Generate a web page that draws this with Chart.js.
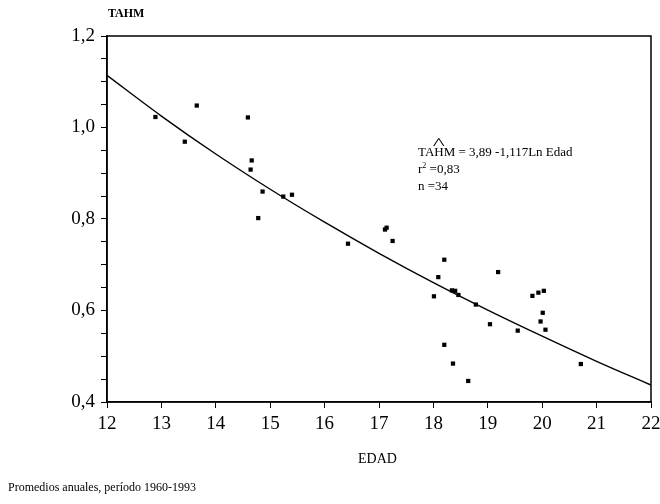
<!DOCTYPE html>
<html>
<head>
<meta charset="utf-8">
<script src="https://cdn.jsdelivr.net/npm/chart.js@4"></script>
<style>
  body { margin: 0; background: #fff; }
  #wrap { position: relative; width: 660px; height: 504px; font-family: "Liberation Serif", serif; color: #000; }
  #chart { position: absolute; left: 0; top: 0; }
  .lbl { position: absolute; white-space: nowrap; }
  .hat { position: relative; display: inline-block; }
  .hat::before { content: "^"; position: absolute; left: 0; right: 0; top: -9px; text-align: center; font-size: 16px; transform: scaleX(1.6); }
</style>
</head>
<body>
<div id="wrap">
  <canvas id="chart" width="660" height="504"></canvas>
  <div class="lbl" style="left:108px;top:6px;font-size:12px;font-weight:bold;">TAHM</div>
  <div class="lbl" style="left:418px;top:144px;font-size:13px;">TA<span class="hat">H</span>M = 3,89 -1,117Ln Edad</div>
  <div class="lbl" style="left:418px;top:161px;font-size:13px;">r<sup style="font-size:8px">2</sup> =0,83</div>
  <div class="lbl" style="left:418px;top:178px;font-size:13px;">n =34</div>
  <div class="lbl" style="left:358px;top:451px;font-size:14px;">EDAD</div>
  <div class="lbl" style="left:8px;top:480px;font-size:12px;">Promedios anuales, período 1960-1993</div>
</div>
<script>
// observed points (edad, tahm)
const edad = [12.89, 13.43, 13.65, 14.59, 14.64, 14.66, 14.78, 14.86, 15.24, 15.40,
  16.43, 17.11, 17.14, 17.25, 18.01, 18.09, 18.20, 18.34, 18.40, 18.46,
  18.78, 19.19, 19.04, 19.55, 19.82, 19.93, 20.03, 20.01, 19.97, 20.06,
  18.20, 18.36, 18.64, 20.71];
const tahm = [1.023, 0.969, 1.048, 1.022, 0.908, 0.928, 0.802, 0.860, 0.849, 0.853,
  0.746, 0.777, 0.781, 0.752, 0.631, 0.673, 0.711, 0.644, 0.643, 0.634,
  0.613, 0.684, 0.570, 0.556, 0.632, 0.639, 0.643, 0.595, 0.576, 0.558,
  0.525, 0.484, 0.446, 0.483];

// fitted curve
const curveX = [12, 13, 14, 15, 16, 17, 18, 19, 20, 21, 22];
const curveY = [1.114, 1.025, 0.942, 0.865, 0.793, 0.725, 0.661, 0.601, 0.544, 0.489, 0.437];

const xTicks = [12, 22, 1];
const yTicks = [0.4, 1.2, 0.05];

const frame = {
  id: "frame",
  afterDraw(chart) {
    const a = chart.chartArea, c = chart.ctx;
    c.save();
    c.strokeStyle = "#000";
    c.lineWidth = 1.5;
    c.strokeRect(a.left, a.top, a.right - a.left, a.bottom - a.top);
    c.restore();
  }
};

const tickFont = { family: "Liberation Serif", size: 19 };

new Chart(document.getElementById("chart"), {
  type: "scatter",
  data: {
    datasets: [
      {
        data: edad.map((x, i) => ({ x, y: tahm[i] })),
        pointStyle: "rect",
        pointRadius: 3,
        backgroundColor: "#000",
        borderColor: "#000",
        borderWidth: 0
      },
      {
        data: curveX.map((x, i) => ({ x, y: curveY[i] })),
        showLine: true,
        pointRadius: 0,
        borderColor: "#000",
        borderWidth: 1.4,
        cubicInterpolationMode: "monotone"
      }
    ]
  },
  options: {
    responsive: false,
    animation: false,
    layout: { padding: { left: 0, top: 36, right: 0, bottom: 0 } },
    plugins: { legend: { display: false }, tooltip: { enabled: false } },
    scales: {
      x: {
        type: "linear", min: xTicks[0], max: xTicks[1],
        ticks: { stepSize: xTicks[2], color: "#000", font: tickFont, padding: 5, maxRotation: 0 },
        grid: { drawOnChartArea: false, tickLength: 6, color: "#000", lineWidth: 1 },
        border: { color: "#000", width: 1.5 },
        afterFit: (s) => { s.height = 102; s.paddingRight = 9; s.paddingLeft = 0; }
      },
      y: {
        min: yTicks[0], max: yTicks[1],
        ticks: {
          stepSize: yTicks[2], color: "#000", font: tickFont, padding: 6, autoSkip: false,
          callback: (v) => Math.round(v * 100) % 20 === 0 ? v.toFixed(1).replace(".", ",") : ""
        },
        grid: { drawOnChartArea: false, tickLength: 6, color: "#000", lineWidth: 1 },
        border: { color: "#000", width: 1.5 },
        afterFit: (s) => { s.width = 107; }
      }
    }
  },
  plugins: [frame]
});
</script>
</body>
</html>
